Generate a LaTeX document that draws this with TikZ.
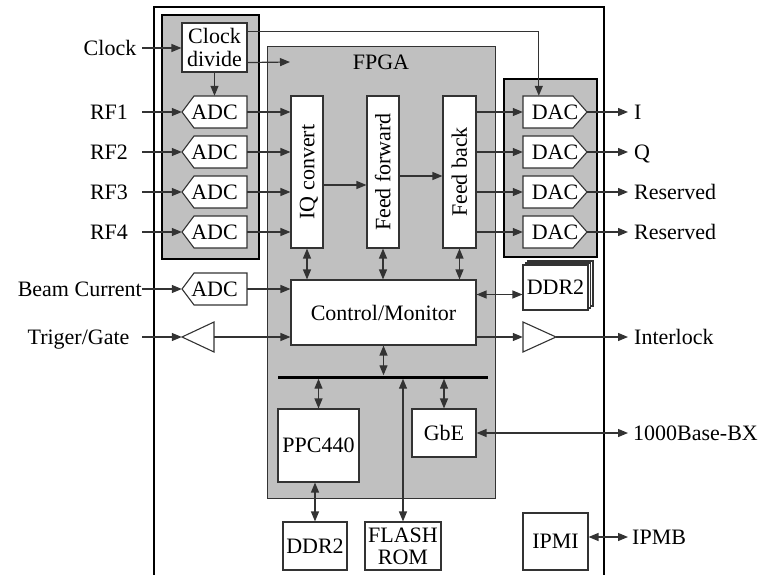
\documentclass[tikz,border=0pt]{standalone}
\usepackage{fontspec}
\setmainfont{Liberation Serif}
\usetikzlibrary{arrows.meta,calc}
\definecolor{grp}{HTML}{C0C0C0}
\definecolor{ln}{HTML}{333333}
\tikzset{
  every node/.style={font=\fontsize{22}{26}\selectfont},
  box/.style={draw=ln, fill=white, line width=1.1pt, inner sep=0pt, align=center},
  plain/.style={inner sep=0pt, align=center, text height=15.5pt, text depth=1pt},
  lab/.style={inner sep=0pt, text height=15.5pt, text depth=1pt},
  shp/.style={draw=ln, fill=white, line width=1.1pt},
  arr/.style={draw=ln, line width=1.2pt, -{Triangle[length=10pt,width=8pt]}},
  darr/.style={draw=ln, line width=1.2pt, {Triangle[length=10pt,width=8pt]}-{Triangle[length=10pt,width=8pt]}},
  group/.style={draw=black, fill=grp, line width=2pt},
}
\newcommand\leftpent[4]{%
  \filldraw[shp] (#2,#3) -- (#2+12,#3-16) -- (#2+65,#3-16) -- (#2+65,#3+16) -- (#2+12,#3+16) -- cycle;
  \node[plain, minimum width=65pt, minimum height=32pt] (#1) at (#2+32.5,#3) {#4};}
\newcommand\rightpent[4]{%
  \filldraw[shp] (#2,#3-16) -- (#2+50,#3-16) -- (#2+64,#3) -- (#2+50,#3+16) -- (#2,#3+16) -- cycle;
  \node[plain, minimum width=64pt, minimum height=32pt] (#1) at (#2+32,#3) {#4};}
\begin{document}
\begin{tikzpicture}[x=1pt,y=-1pt]
\useasboundingbox (0,0) rectangle (761,575);
% board
\draw[black, line width=1.6pt] (154,575) -- (154,7) -- (604,7) -- (604,575);
% groups
\draw[group] (162,15) rectangle (259,259);
\draw[group] (504,79) rectangle (597,257);
\draw[draw=ln, fill=grp, line width=1pt] (267,47) rectangle (495,498);
\node[lab] (fpga) at (381,62) {FPGA};
% free coordinates
\coordinate (lin) at (142,0);
\coordinate (rout) at (628,0);
\coordinate (fpgaclk) at (290,62);
% clock divide
\node[box, minimum width=65pt, minimum height=49pt] (clk) at (214.5,47.5) {Clock\\[-3pt]divide};
% ADCs
\leftpent{adc1}{182}{112}{ADC}
\leftpent{adc2}{182}{152}{ADC}
\leftpent{adc3}{182}{192}{ADC}
\leftpent{adc4}{182}{232}{ADC}
\leftpent{adc5}{182}{289}{ADC}
% DACs
\rightpent{dac1}{523}{112}{DAC}
\rightpent{dac2}{523}{152}{DAC}
\rightpent{dac3}{523}{192}{DAC}
\rightpent{dac4}{523}{232}{DAC}
% buffers
\filldraw[shp] (182,337) -- (214,322) -- (214,352) -- cycle;
\node[inner sep=0pt, minimum width=32pt, minimum height=30pt] (buf1) at (198,337) {};
\filldraw[shp] (523,322) -- (556,337) -- (523,352) -- cycle;
\node[inner sep=0pt, minimum width=33pt, minimum height=30pt] (buf2) at (539.5,337) {};
% FPGA blocks
\node[box, minimum width=32pt, minimum height=152pt] (iq) at (307,172) {};
\node[rotate=90, plain] at (iq) {IQ convert};
\node[box, minimum width=32pt, minimum height=152pt] (ff) at (383,172) {};
\node[rotate=90, plain] at (ff) {Feed forward};
\node[box, minimum width=33pt, minimum height=152pt] (fb) at (459.5,172) {};
\node[rotate=90, plain] at (fb) {Feed back};
\node[box, minimum width=185pt, minimum height=65pt] (cm) at (383.5,312.5) {Control/Monitor};
\node[fill=black, inner sep=0pt, minimum width=210pt, minimum height=3pt] (bus) at (383,377) {};
\node[box, minimum width=81pt, minimum height=73pt] (ppc) at (318.5,445.5) {PPC440};
\node[box, minimum width=64pt, minimum height=48pt] (gbe) at (444,433) {GbE};
% external chips
\draw[shp] (528,261) rectangle (593,306);
\draw[shp] (525.5,263) rectangle (590.5,308);
\node[box, minimum width=65pt, minimum height=45pt] (ddra) at (555.5,287.5) {DDR2};
\node[box, minimum width=64pt, minimum height=48pt] (ddrb) at (315,546) {DDR2};
\node[box, minimum width=76pt, minimum height=48pt] (flash) at (403,546) {FLASH\\[-4pt]ROM};
\node[box, minimum width=65pt, minimum height=57pt] (ipmi) at (555.5,541.5) {IPMI};
% left labels
\node[lab] (clocklab) at (110,48) {Clock};
\node[lab] (rf1) at (109,112) {RF1};
\node[lab] (rf2) at (109,152) {RF2};
\node[lab] (rf3) at (109,192) {RF3};
\node[lab] (rf4) at (109,232) {RF4};
\node[lab, anchor=east] (beamlab) at (142,289) {Beam Current};
\node[lab] (triglab) at (78.5,337) {Triger/Gate};
% right labels
\node[lab, anchor=west] (ilab) at (634,112) {I};
\node[lab, anchor=west] (qlab) at (634,152) {Q};
\node[lab, anchor=west] (r3lab) at (634,192) {Reserved};
\node[lab, anchor=west] (r4lab) at (634,232) {Reserved};
\node[lab, anchor=west] (intlab) at (634,337) {Interlock};
\node[lab, anchor=west] (gbelab) at (633,433) {1000Base-BX};
\node[lab, anchor=west] (ipmblab) at (632,537) {IPMB};
% clock connectors
\draw[arr] (clocklab -| lin) -- (clocklab -| clk.west);
\draw[arr] ($(clk.north east)!0.18!(clk.south east)$) -| ([xshift=16pt]dac1.north west);
\draw[arr] ($(clk.north east)!0.8!(clk.south east)$) -- (fpgaclk);
\draw[arr] (clk.south) -- (adc1.north);
% inputs
\foreach \r/\a in {rf1/adc1, rf2/adc2, rf3/adc3, rf4/adc4}{
  \draw[arr] (\r -| lin) -- (\a.west);
  \draw[arr] (\a.east) -- (\a.east -| iq.west);
}
\draw[arr] (beamlab -| lin) -- (adc5.west);
\draw[arr] (adc5.east) -- (adc5.east -| cm.west);
\draw[arr] (triglab -| lin) -- (buf1.west);
\draw[arr] (buf1.east) -- (buf1.east -| cm.west);
% chain
\draw[arr] ([yshift=-13pt]iq.east) -- ([yshift=-13pt]iq.east -| ff.west);
\draw[arr] ([yshift=-4pt]ff.east) -- ([yshift=-4pt]ff.east -| fb.west);
% outputs
\foreach \d/\l in {dac1/ilab, dac2/qlab, dac3/r3lab, dac4/r4lab}{
  \draw[arr] (\d.west -| fb.east) -- (\d.west);
  \draw[arr] (\d.east) -- (\l -| rout);
}
% control
\draw[darr] (iq.south) -- (iq.south |- cm.north);
\draw[darr] (ff.south) -- (ff.south |- cm.north);
\draw[darr] (fb.south) -- (fb.south |- cm.north);
\draw[darr] ([yshift=-7pt]ddra.west -| cm.east) -- ([yshift=-7pt]ddra.west);
\draw[arr] (buf2.west -| cm.east) -- (buf2.west);
\draw[arr] (buf2.east) -- (intlab -| rout);
\draw[darr] (cm.south) -- (cm.south |- bus.north);
\draw[darr] (ppc.north) -- (ppc.north |- bus.south);
\draw[darr] (gbe.north) -- (gbe.north |- bus.south);
\draw[darr] (flash.north) -- (flash.north |- bus.south);
\draw[darr] (ddrb.north) -- (ddrb.north |- ppc.south);
\draw[darr] (gbe.east) -- (gbelab -| rout);
\draw[darr] (ipmblab -| ipmi.east) -- (ipmblab -| rout);
\end{tikzpicture}
\end{document}
